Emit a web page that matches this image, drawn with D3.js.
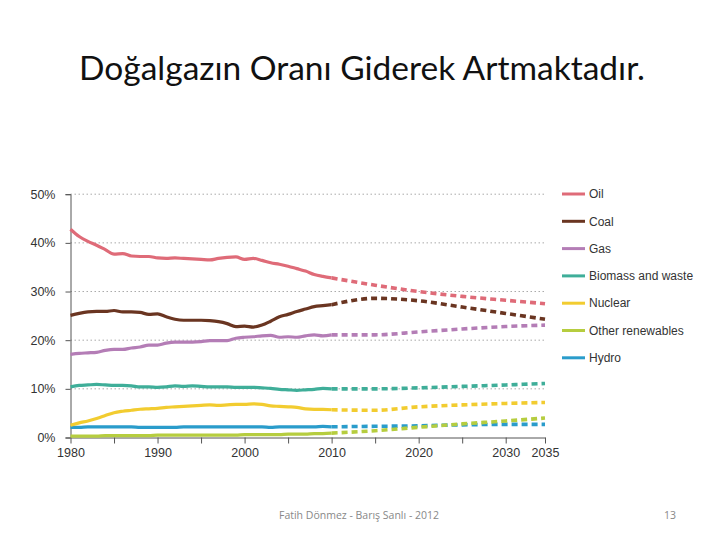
<!DOCTYPE html>
<html lang="tr">
<head>
<meta charset="UTF-8">
<title>Doğalgazın Oranı</title>
<script src="https://cdn.jsdelivr.net/npm/d3@7"></script>
<style>
  body { margin: 0; background: #fff; }
  .narrow { font-family: "Liberation Sans Narrow", "Liberation Sans", sans-serif; font-stretch: condensed; }
</style>
</head>
<body>
<svg id="chart" width="720" height="540"></svg>
<script>
// --- data (share of world primary energy demand, %) ---
var histYears = d3.range(1980, 2011);
var projYears = [2010, 2015, 2020, 2025, 2030, 2035];

var seriesNames = ["Oil", "Coal", "Gas", "Biomass and waste", "Nuclear", "Other renewables", "Hydro"];
var seriesColors = ["#df6b78", "#6a3521", "#b47db6", "#3fae99", "#f2cc30", "#b6cd3f", "#2a9ccb"];

var oilHist = [42.8, 41.3, 40.3, 39.5, 38.6, 37.7, 37.8, 37.3, 37.2, 37.2, 36.9, 36.8, 36.9, 36.8, 36.7, 36.6, 36.5, 36.8, 37.0, 37.1, 36.6, 36.8, 36.4, 35.9, 35.6, 35.2, 34.7, 34.2, 33.5, 33.1, 32.8];
var coalHist = [25.1, 25.5, 25.8, 25.9, 25.9, 26.1, 25.8, 25.8, 25.7, 25.3, 25.4, 24.8, 24.3, 24.1, 24.1, 24.1, 24.0, 23.8, 23.4, 22.8, 22.9, 22.7, 23.1, 23.9, 24.8, 25.3, 25.9, 26.4, 26.9, 27.1, 27.3];
var gasHist = [17.1, 17.3, 17.4, 17.5, 17.9, 18.1, 18.1, 18.4, 18.6, 19.0, 19.0, 19.4, 19.6, 19.6, 19.6, 19.7, 19.9, 19.9, 19.9, 20.4, 20.6, 20.7, 20.9, 21.0, 20.6, 20.7, 20.6, 20.9, 21.1, 20.9, 21.1];
var bioHist = [10.4, 10.7, 10.8, 10.9, 10.8, 10.7, 10.7, 10.6, 10.4, 10.4, 10.3, 10.4, 10.6, 10.5, 10.6, 10.5, 10.4, 10.4, 10.4, 10.3, 10.3, 10.3, 10.2, 10.1, 9.9, 9.8, 9.7, 9.8, 9.9, 10.1, 10.0];
var nucHist = [2.5, 3.0, 3.4, 3.9, 4.5, 5.1, 5.4, 5.6, 5.8, 5.9, 6.0, 6.2, 6.3, 6.4, 6.5, 6.6, 6.7, 6.6, 6.7, 6.8, 6.8, 6.9, 6.8, 6.5, 6.4, 6.3, 6.2, 5.9, 5.8, 5.8, 5.7];
var othHist = [0.3, 0.3, 0.3, 0.3, 0.4, 0.4, 0.4, 0.4, 0.4, 0.4, 0.5, 0.5, 0.5, 0.5, 0.5, 0.5, 0.5, 0.5, 0.5, 0.5, 0.6, 0.6, 0.6, 0.6, 0.6, 0.7, 0.7, 0.7, 0.8, 0.8, 0.9];
var hydHist = [2.1, 2.1, 2.2, 2.2, 2.2, 2.2, 2.2, 2.2, 2.1, 2.1, 2.1, 2.1, 2.1, 2.2, 2.2, 2.2, 2.2, 2.2, 2.2, 2.2, 2.2, 2.2, 2.2, 2.1, 2.2, 2.2, 2.2, 2.2, 2.2, 2.3, 2.2];

var oilProj = [32.8, 31.3, 30.0, 29.0, 28.2, 27.5];
var coalProj = [27.3, 28.6, 28.1, 26.8, 25.5, 24.3];
var gasProj = [21.1, 21.1, 21.7, 22.3, 22.8, 23.1];
var bioProj = [10.0, 10.0, 10.2, 10.5, 10.8, 11.1];
var nucProj = [5.7, 5.6, 6.3, 6.7, 7.0, 7.2];
var othProj = [0.9, 1.4, 2.1, 2.8, 3.4, 4.0];
var hydProj = [2.2, 2.3, 2.4, 2.6, 2.7, 2.7];

var histValues = [oilHist, coalHist, gasHist, bioHist, nucHist, othHist, hydHist];
var projValues = [oilProj, coalProj, gasProj, bioProj, nucProj, othProj, hydProj];

var yTicks = [0, 10, 20, 30, 40, 50];
var xLabelYears = [1980, 1990, 2000, 2010, 2020, 2030, 2035];
var xTickYears = d3.range(1980, 2036, 5);

// --- layout ---
var svg = d3.select("#chart");

var x = d3.scaleLinear().domain([1980, 2030, 2035]).range([70.5, 505.7, 545]);
var y = d3.scaleLinear().domain([0, 50]).range([437.5, 194.2]);

svg.append("text")
  .attr("x", 362).attr("y", 80)
  .attr("text-anchor", "middle")
  .style("font-family", "Lato, 'Open Sans', sans-serif")
  .style("font-size", "33.5px")
  .style("fill", "#111")
  .text("Doğalgazın Oranı Giderek Artmaktadır.");

// grid
svg.append("g")
  .selectAll("line")
  .data(yTicks.filter(function(d){ return d > 0; }))
  .enter().append("line")
  .attr("x1", x(1980)).attr("x2", x(2035))
  .attr("y1", function(d){ return y(d); })
  .attr("y2", function(d){ return y(d); })
  .attr("stroke", "#aaa")
  .attr("stroke-width", 1)
  .attr("stroke-dasharray", "1.5,2.5");

// axes
var yAxis = d3.axisLeft(y).tickValues(yTicks).tickSize(5).tickFormat(function(d){ return d + "%"; });
var gy = svg.append("g").attr("transform", "translate(" + x(1980) + ",0)").call(yAxis);
gy.select(".domain").attr("stroke", "#555");
gy.selectAll(".tick line").attr("stroke", "#555");
gy.selectAll("text").attr("class", "narrow").style("font-size", "12.5px").style("fill", "#333").attr("x", -15);

var xAxis = d3.axisBottom(x).tickValues(xTickYears).tickSize(6).tickSizeOuter(0)
  .tickFormat(function(d){ return xLabelYears.indexOf(d) >= 0 ? d : ""; });
var gx = svg.append("g").attr("transform", "translate(0," + y(0) + ")").call(xAxis);
gx.select(".domain").attr("stroke", "#555");
gx.selectAll(".tick line").attr("stroke", "#555");
gx.selectAll("text").attr("class", "narrow").style("font-size", "12.5px").style("fill", "#333").attr("y", 11);

// lines
var line = d3.line()
  .x(function(d){ return x(d[0]); })
  .y(function(d){ return y(d[1]); })
  .curve(d3.curveMonotoneX);

var plot = svg.append("g");
// draw in reverse so Oil is on top
for (var i = seriesNames.length - 1; i >= 0; i--) {
  var h = histYears.map(function(yr, j){ return [yr, histValues[i][j]]; });
  var p = projYears.map(function(yr, j){ return [yr, projValues[i][j]]; });
  plot.append("path").datum(h)
    .attr("d", line)
    .attr("fill", "none")
    .attr("stroke", seriesColors[i])
    .attr("stroke-width", 3.2)
    .attr("stroke-linejoin", "round");
  plot.append("path").datum(p)
    .attr("d", line)
    .attr("fill", "none")
    .attr("stroke", seriesColors[i])
    .attr("stroke-width", 3.6)
    .attr("stroke-dasharray", "6,4");
}

// legend
var legend = svg.append("g").attr("transform", "translate(562,194)")
  .selectAll("g")
  .data(seriesNames)
  .enter().append("g")
  .attr("transform", function(d, i){ return "translate(0," + (i * 27.3) + ")"; });
legend.append("line")
  .attr("x1", 0).attr("x2", 23)
  .attr("stroke", function(d, i){ return seriesColors[i]; })
  .attr("stroke-width", 3);
legend.append("text")
  .attr("class", "narrow")
  .attr("x", 27).attr("y", 0).attr("dy", "0.35em")
  .style("font-size", "12px")
  .style("fill", "#333")
  .text(function(d){ return d; });

// footer
svg.append("text")
  .attr("x", 359).attr("y", 519)
  .attr("text-anchor", "middle")
  .style("font-family", "'Open Sans', sans-serif")
  .style("font-size", "10.5px")
  .style("fill", "#888")
  .text("Fatih Dönmez - Barış Sanlı - 2012");
svg.append("text")
  .attr("x", 670).attr("y", 519)
  .attr("text-anchor", "middle")
  .style("font-family", "'Open Sans', sans-serif")
  .style("font-size", "10.5px")
  .style("fill", "#888")
  .text("13");
</script>
</body>
</html>
